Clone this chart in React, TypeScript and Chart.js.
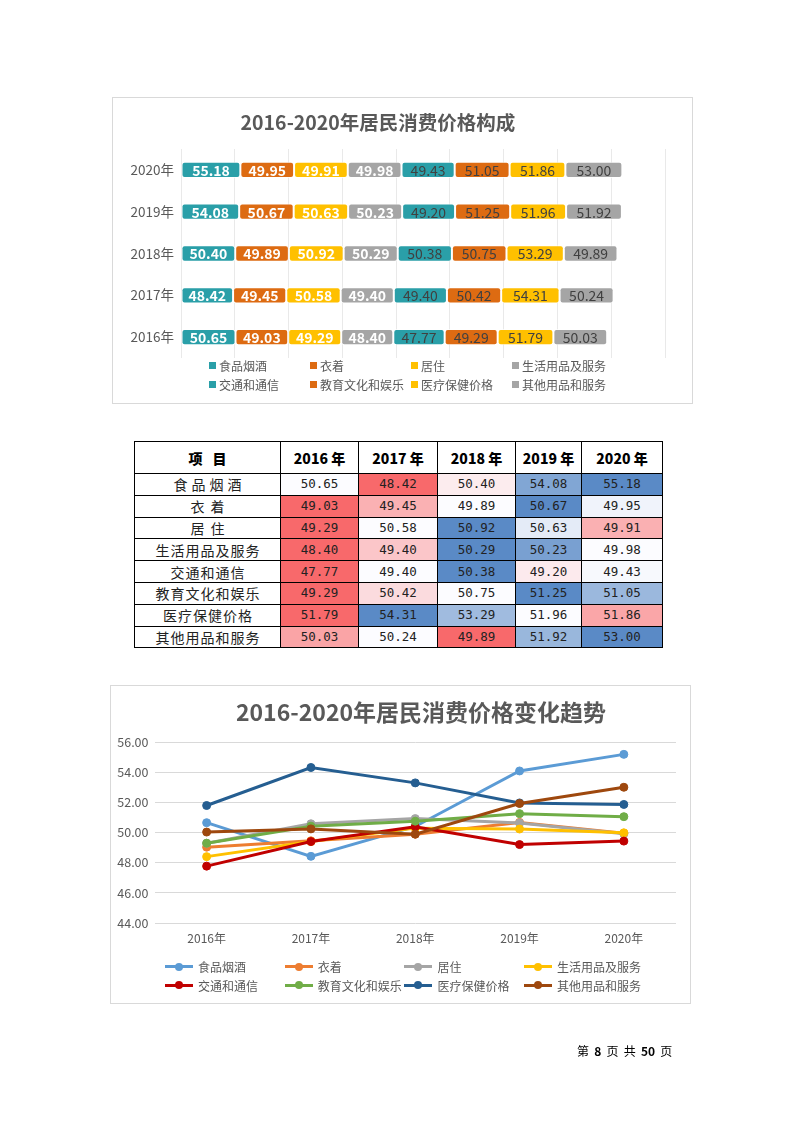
import React, { useEffect, useRef } from "react";
import { Chart, registerables } from "chart.js";

Chart.register(...registerables);

// ---------- data ----------
const years = ["2016年", "2017年", "2018年", "2019年", "2020年"];
const tableYears = ["2016 年", "2017 年", "2018 年", "2019 年", "2020 年"];
const categories = [
  "食品烟酒",
  "衣着",
  "居住",
  "生活用品及服务",
  "交通和通信",
  "教育文化和娱乐",
  "医疗保健价格",
  "其他用品和服务",
];
const food = [50.65, 48.42, 50.4, 54.08, 55.18];
const clothing = [49.03, 49.45, 49.89, 50.67, 49.95];
const housing = [49.29, 50.58, 50.92, 50.63, 49.91];
const household = [48.4, 49.4, 50.29, 50.23, 49.98];
const transport = [47.77, 49.4, 50.38, 49.2, 49.43];
const education = [49.29, 50.42, 50.75, 51.25, 51.05];
const medical = [51.79, 54.31, 53.29, 51.96, 51.86];
const others = [50.03, 50.24, 49.89, 51.92, 53.0];
const seriesValues = [food, clothing, housing, household, transport, education, medical, others];

const barYearOrder = ["2020年", "2019年", "2018年", "2017年", "2016年"];
const barAxisMax = 450;
const barAxisStep = 50;
const lineAxisMin = 44;
const lineAxisMax = 56;
const lineAxisStep = 2;

// ---------- styles ----------
const FONT = '"Noto Sans CJK SC", "Noto Sans", sans-serif';
const barColors = ["#2A9FA8", "#DD6B12", "#FFC000", "#A5A5A5", "#2A9FA8", "#DD6B12", "#FFC000", "#A5A5A5"];
const barLabelColors = ["#FFFFFF", "#FFFFFF", "#FFFFFF", "#FFFFFF", "#404040", "#404040", "#404040", "#404040"];
const barLabelWeights = ["bold", "bold", "bold", "bold", "normal", "normal", "normal", "normal"];
const lineColors = ["#5B9BD5", "#ED7D31", "#A5A5A5", "#FFC000", "#C00000", "#70AD47", "#255E91", "#9E480E"];
const nameSpacing: Record<string, number> = { 食品烟酒: 4, 衣着: 6, 居住: 6 };

const RED = [248, 105, 107];
const WHITE = [252, 252, 255];
const BLUE = [90, 138, 198];

function lerp(a: number[], b: number[], t: number) {
  const c = a.map((v, i) => Math.round(v + (b[i] - v) * t));
  return `rgb(${c[0]},${c[1]},${c[2]})`;
}
function scaleColor(v: number, row: number[]) {
  const s = [...row].sort((a, b) => a - b);
  const min = s[0];
  const max = s[s.length - 1];
  const mid = s[Math.floor(s.length / 2)];
  if (v <= mid) {
    const t = mid === min ? 1 : (v - min) / (mid - min);
    return lerp(RED, WHITE, t);
  }
  const t = (v - mid) / (max - mid);
  return lerp(WHITE, BLUE, t);
}

// ---------- bar chart ----------
function BarChart() {
  const ref = useRef<HTMLCanvasElement>(null);
  useEffect(() => {
    if (!ref.current) return;
    const labelPlugin = {
      id: "barLabels",
      afterDatasetsDraw(chart: any) {
        const ctx = chart.ctx;
        chart.data.datasets.forEach((ds: any, di: number) => {
          const meta = chart.getDatasetMeta(di);
          meta.data.forEach((el: any, i: number) => {
            const v = ds.data[i] as number;
            const p = el.getProps(["x", "y", "base"], true);
            ctx.save();
            ctx.font = `${barLabelWeights[di]} 14px ${FONT}`;
            ctx.fillStyle = barLabelColors[di];
            ctx.textAlign = "center";
            ctx.textBaseline = "middle";
            ctx.fillText(v.toFixed(2), (p.x + p.base) / 2, p.y + 0.5);
            ctx.restore();
          });
        });
      },
    };
    const r = 3;
    const chart = new Chart(ref.current, {
      type: "bar",
      data: {
        labels: barYearOrder,
        datasets: categories.map((c, k) => ({
          label: c,
          data: barYearOrder.map((y) => seriesValues[k][years.indexOf(y)]),
          backgroundColor: barColors[k],
          borderColor: "rgba(255,255,255,0.7)",
          borderWidth: 1,
          borderRadius: { topLeft: r, topRight: r, bottomLeft: r, bottomRight: r },
          borderSkipped: false,
          barPercentage: 0.39,
          categoryPercentage: 1,
        })),
      },
      options: {
        indexAxis: "y",
        animation: false,
        responsive: false,
        maintainAspectRatio: false,
        layout: { padding: { left: 0, top: 52, right: 28, bottom: 46 } },
        plugins: {
          legend: { display: false },
          tooltip: { enabled: false },
          title: { display: false },
        },
        scales: {
          x: {
            stacked: true,
            min: 0,
            max: barAxisMax,
            ticks: { display: false, stepSize: barAxisStep },
            grid: { color: "#E9E9E9", drawTicks: false },
            border: { display: false },
            afterFit: (s: any) => {
              s.height = 0;
            },
          },
          y: {
            stacked: true,
            ticks: { color: "#595959", font: { family: FONT, size: 13.5 }, padding: 7 },
            grid: { display: false, drawTicks: false },
            border: { display: false },
            afterFit: (s: any) => {
              s.width = 69;
            },
          },
        },
      } as any,
      plugins: [labelPlugin],
    });
    return () => chart.destroy();
  }, []);
  return (
    <canvas
      ref={ref}
      width={581}
      height={307}
      style={{ position: "absolute", left: 112, top: 97, width: 581, height: 307 }}
    />
  );
}

// ---------- line chart ----------
function LineChart() {
  const ref = useRef<HTMLCanvasElement>(null);
  useEffect(() => {
    if (!ref.current) return;
    const chart = new Chart(ref.current, {
      type: "line",
      data: {
        labels: years,
        datasets: categories.map((c, k) => ({
          label: c,
          data: seriesValues[k],
          borderColor: lineColors[k],
          backgroundColor: lineColors[k],
          pointBackgroundColor: lineColors[k],
          pointBorderColor: lineColors[k],
          borderWidth: 3,
          pointRadius: 4,
          pointBorderWidth: 1,
          tension: 0,
          fill: false,
          order: categories.length - k,
        })),
      },
      options: {
        animation: false,
        responsive: false,
        maintainAspectRatio: false,
        layout: { padding: { left: 0, top: 57, right: 15, bottom: 51 } },
        plugins: {
          legend: { display: false },
          tooltip: { enabled: false },
          title: { display: false },
        },
        scales: {
          x: {
            offset: true,
            grid: { display: false, drawTicks: false },
            border: { display: false },
            ticks: { color: "#595959", font: { family: FONT, size: 12 }, padding: 8 },
            afterFit: (s: any) => {
              s.height = 30;
            },
          },
          y: {
            min: lineAxisMin,
            max: lineAxisMax,
            ticks: {
              stepSize: lineAxisStep,
              color: "#595959",
              font: { family: FONT, size: 12.5 },
              padding: 6,
              callback: (v: any) => Number(v).toFixed(2),
            },
            grid: { color: "#D9D9D9", drawTicks: false },
            border: { display: false },
            afterFit: (s: any) => {
              s.width = 44.5;
            },
          },
        },
      } as any,
    });
    return () => chart.destroy();
  }, []);
  return (
    <canvas
      ref={ref}
      width={581}
      height={319}
      style={{ position: "absolute", left: 110, top: 685, width: 581, height: 319 }}
    />
  );
}

// ---------- table ----------
function DataTable() {
  const colWidths = [146, 78, 79, 78, 66, 81];
  const border = "1px solid #000";
  const cellBase: React.CSSProperties = {
    border,
    padding: 0,
    textAlign: "center",
    verticalAlign: "middle",
  };
  return (
    <table
      style={{
        position: "absolute",
        left: 134,
        top: 441,
        borderCollapse: "collapse",
        tableLayout: "fixed",
        width: 528,
      }}
    >
      <colgroup>
        {colWidths.map((w, i) => (
          <col key={i} style={{ width: w }} />
        ))}
      </colgroup>
      <thead>
        <tr style={{ height: 32 }}>
          <th style={{ ...cellBase, fontFamily: FONT, fontWeight: 900, fontSize: 14, color: "#000" }}>
            <span>项</span>
            <span style={{ marginLeft: 10 }}>目</span>
          </th>
          {tableYears.map((y) => (
            <th key={y} style={{ ...cellBase, fontFamily: FONT, fontWeight: 900, fontSize: 14, color: "#000" }}>
              {y}
            </th>
          ))}
        </tr>
      </thead>
      <tbody>
        {categories.map((c, k) => (
          <tr key={c} style={{ height: 21.8 }}>
            <td
              style={{
                ...cellBase,
                fontFamily: FONT,
                fontSize: 14,
                color: "#222",
                letterSpacing: nameSpacing[c] ?? 1,
                lineHeight: "20px",
              }}
            >
              <span style={{ marginRight: -(nameSpacing[c] ?? 1) }}>{c}</span>
            </td>
            {seriesValues[k].map((v, i) => (
              <td
                key={i}
                style={{
                  ...cellBase,
                  background: scaleColor(v, seriesValues[k]),
                  fontFamily: '"DejaVu Sans Mono", "Liberation Mono", monospace',
                  fontSize: 12.5,
                  color: "#222",
                  lineHeight: "20px",
                }}
              >
                {v.toFixed(2)}
              </td>
            ))}
          </tr>
        ))}
      </tbody>
    </table>
  );
}

// ---------- legends ----------
function BarLegend() {
  return (
    <>
      {categories.map((c, k) => {
        const col = k % 4;
        const row = Math.floor(k / 4);
        const left = 209 + col * 101;
        const cy = 365 + row * 19;
        return (
          <div
            key={c}
            style={{
              position: "absolute",
              left,
              top: cy - 9,
              height: 18,
              display: "flex",
              alignItems: "center",
              fontFamily: FONT,
              fontSize: 12,
              color: "#595959",
              whiteSpace: "nowrap",
            }}
          >
            <span style={{ display: "inline-block", width: 7, height: 7, background: barColors[k], marginRight: 3 }} />
            <span>{c}</span>
          </div>
        );
      })}
    </>
  );
}

function LineLegend() {
  return (
    <>
      {categories.map((c, k) => {
        const col = k % 4;
        const row = Math.floor(k / 4);
        const left = 165 + col * 119.7;
        const cy = 966.5 + row * 18.5;
        return (
          <div
            key={c}
            style={{
              position: "absolute",
              left,
              top: cy - 9,
              height: 18,
              display: "flex",
              alignItems: "center",
              fontFamily: FONT,
              fontSize: 12,
              color: "#595959",
              whiteSpace: "nowrap",
            }}
          >
            <span style={{ position: "relative", display: "inline-block", width: 28, height: 18, marginRight: 5 }}>
              <span
                style={{
                  position: "absolute",
                  left: 0,
                  top: 7.5,
                  width: 28,
                  height: 3,
                  background: lineColors[k],
                }}
              />
              <span
                style={{
                  position: "absolute",
                  left: 10,
                  top: 5,
                  width: 8,
                  height: 8,
                  borderRadius: "50%",
                  background: lineColors[k],
                }}
              />
            </span>
            <span>{c}</span>
          </div>
        );
      })}
    </>
  );
}

// ---------- page ----------
export default function App() {
  const frame = (left: number, top: number, width: number, height: number): React.CSSProperties => ({
    position: "absolute",
    left,
    top,
    width,
    height,
    boxSizing: "border-box",
    border: "1px solid #D9D9D9",
    background: "#fff",
  });
  const title = (cx: number, cy: number, size: number): React.CSSProperties => ({
    position: "absolute",
    left: cx - 250,
    top: cy - 16,
    width: 500,
    height: 32,
    lineHeight: "32px",
    textAlign: "center",
    fontFamily: FONT,
    fontWeight: "bold",
    fontSize: size,
    color: "#595959",
    whiteSpace: "nowrap",
  });
  return (
    <div style={{ position: "absolute", left: 0, top: 0, width: 794, height: 1123, background: "#fff" }}>
      <div style={frame(112, 97, 581, 307)} />
      <BarChart />
      <div style={title(378, 122, 19.5)}>2016-2020年居民消费价格构成</div>
      <BarLegend />

      <DataTable />

      <div style={frame(110, 685, 581, 319)} />
      <LineChart />
      <div style={title(421, 711, 23)}>2016-2020年居民消费价格变化趋势</div>
      <LineLegend />

      <div
        style={{
          position: "absolute",
          left: 577,
          top: 1042,
          height: 18,
          lineHeight: "18px",
          fontFamily: FONT,
          fontSize: 12,
          color: "#000",
          whiteSpace: "pre",
          wordSpacing: 2.5,
        }}
      >
        第 <b>8</b> 页 共 <b>50</b> 页
      </div>
    </div>
  );
}
